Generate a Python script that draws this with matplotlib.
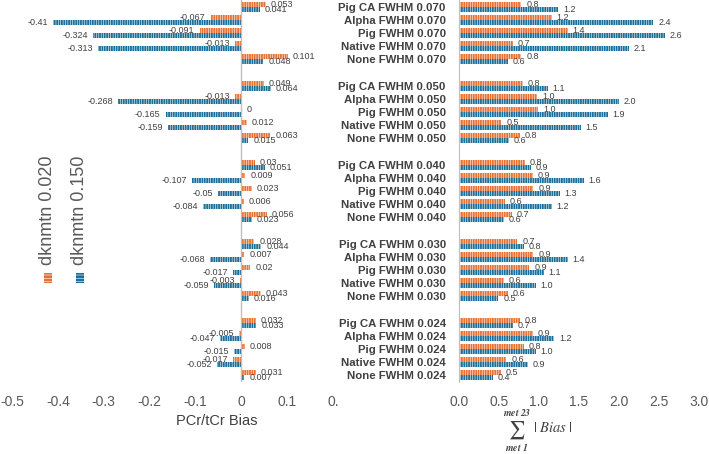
import matplotlib
matplotlib.use("Agg")
import matplotlib.pyplot as plt
from matplotlib.patches import Rectangle

fwhm_levels = ["0.070", "0.050", "0.040", "0.030", "0.024"]
phantoms = ["Pig CA", "Alpha", "Pig", "Native", "None"]
series_names = ["dknmtn 0.020", "dknmtn 0.150"]

# PCr/tCr bias, one value per phantom/FWHM row (top to bottom)
bias_020 = [0.053, -0.067, -0.091, -0.013, 0.101,
            0.049, -0.013, 0, 0.012, 0.063,
            0.03, 0.009, 0.023, 0.006, 0.056,
            0.028, 0.007, 0.02, -0.003, 0.043,
            0.032, -0.005, 0.008, -0.017, 0.031]
bias_150 = [0.041, -0.41, -0.324, -0.313, 0.048,
            0.064, -0.268, -0.165, -0.159, 0.015,
            0.051, -0.107, -0.05, -0.084, 0.023,
            0.044, -0.068, -0.017, -0.059, 0.016,
            0.033, -0.047, -0.015, -0.052, 0.007]

# sum of |bias| over met 1..23
sum_abs_020 = [0.78, 1.16, 1.36, 0.67, 0.78,
               0.80, 0.98, 0.99, 0.53, 0.76,
               0.82, 0.92, 0.93, 0.57, 0.66,
               0.73, 0.93, 0.88, 0.56, 0.61,
               0.76, 0.92, 0.81, 0.59, 0.52]
sum_abs_150 = [1.24, 2.43, 2.57, 2.12, 0.61,
               1.11, 2.00, 1.86, 1.52, 0.62,
               0.90, 1.56, 1.26, 1.16, 0.56,
               0.81, 1.36, 1.06, 0.96, 0.49,
               0.67, 1.19, 0.96, 0.86, 0.42]

left_ticks = [-0.5, -0.4, -0.3, -0.2, -0.1, 0, 0.1, 0.2]
left_ticklabels = ["-0.5", "-0.4", "-0.3", "-0.2", "-0.1", "0", "0.1", "0."]
right_ticks = [0.0, 0.5, 1.0, 1.5, 2.0, 2.5, 3.0]

ORANGE = "#E97132"
BLUE = "#1B6F99"
TEXT = "#404040"
TICK = "#595959"
AXIS = "#BFBFBF"

plt.rcParams["font.family"] = ["Liberation Sans", "DejaVu Sans"]
plt.rcParams["hatch.linewidth"] = 0.4
plt.rcParams["mathtext.fontset"] = "stix"

rows = []
row_labels = []
for g, fwhm in enumerate(fwhm_levels):
    for k, ph in enumerate(phantoms):
        rows.append(g * (len(phantoms) + 1) + k)
        row_labels.append(f"{ph} FWHM {fwhm}")
n_rows = rows[-1] + 1

H = 0.38
W, Hpx = 709, 454
fig = plt.figure(figsize=(W / 100, Hpx / 100), dpi=100)
ax_l = fig.add_axes([12 / W, 1 - 382 / Hpx, 321 / W, 382 / Hpx])
ax_r = fig.add_axes([459 / W, 1 - 382 / Hpx, 240 / W, 382 / Hpx])

y_o = [r - H / 2 for r in rows]
y_b = [r + H / 2 for r in rows]


def draw_bars(ax, values, ys, color, fmt):
    ax.barh(ys, values, height=H, color=color, edgecolor="white",
            linewidth=0, hatch="|" * 7)
    for v, y in zip(values, ys):
        off = 3.6 if v >= 0 else -3.6
        ax.annotate(fmt(v), (v, y), xytext=(off, 0), textcoords="offset points",
                    ha="left" if v >= 0 else "right", va="center",
                    fontsize=6.5, color=TEXT)


draw_bars(ax_l, bias_020, y_o, ORANGE, lambda v: f"{v:g}")
draw_bars(ax_l, bias_150, y_b, BLUE, lambda v: f"{v:g}")
draw_bars(ax_r, sum_abs_020, y_o, ORANGE, lambda v: f"{v:.1f}")
draw_bars(ax_r, sum_abs_150, y_b, BLUE, lambda v: f"{v:.1f}")

for ax in (ax_l, ax_r):
    ax.set_ylim(n_rows - 0.5, -0.5)
    for s in ax.spines.values():
        s.set_visible(False)
    ax.tick_params(length=0, labelsize=10, labelcolor=TICK, pad=9)

ax_l.set_xlim(-0.5, 0.2)
ax_l.set_xticks(left_ticks, left_ticklabels)
ax_l.set_yticks([])
ax_l.axvline(0, color=AXIS, lw=1)
ax_l.set_xlabel("PCr/tCr Bias", fontsize=10.5, color=TEXT)
ax_l.xaxis.set_label_coords((217 - 12) / 321, -0.085)

ax_r.set_xlim(0, 3.0)
ax_r.set_xticks(right_ticks, [f"{t:.1f}" for t in right_ticks])
ax_r.set_yticks(rows, row_labels)
ax_r.tick_params(axis="y", pad=9.5)
for lab in ax_r.get_yticklabels():
    lab.set_fontweight("bold")
    lab.set_fontsize(8.2)
    lab.set_color(TEXT)
ax_r.spines["left"].set_visible(True)
ax_r.spines["left"].set_color(AXIS)

# summation label under the right panel
fig.text(517 / W, 1 - 430 / Hpx, r"$\sum$", ha="center", va="center",
         fontsize=13, color=TEXT)
fig.text(517 / W, 1 - 413 / Hpx, r"$\mathbfit{met\ 23}$", ha="center",
         va="center", fontsize=7, color=TEXT)
fig.text(517 / W, 1 - 447 / Hpx, r"$\mathbfit{met\ 1}$", ha="center",
         va="center", fontsize=7, color=TEXT)
fig.text(533 / W, 1 - 428 / Hpx, r"$|\ \mathit{Bias}\ |$", ha="left",
         va="center", fontsize=10.5, color=TEXT)

# rotated legend on the left
for x_px, name, color in zip([48, 80], series_names, [ORANGE, BLUE]):
    fig.text(x_px / W, 1 - 210 / Hpx, name, rotation=90, ha="center",
             va="center", fontsize=13, color=TICK)
    fig.add_artist(Rectangle(((x_px - 4) / W, 1 - 283 / Hpx), 8 / W, 10 / Hpx,
                             transform=fig.transFigure, facecolor=color,
                             edgecolor="white", linewidth=0, hatch="-" * 5))

fig.savefig("out.png", dpi=100)
